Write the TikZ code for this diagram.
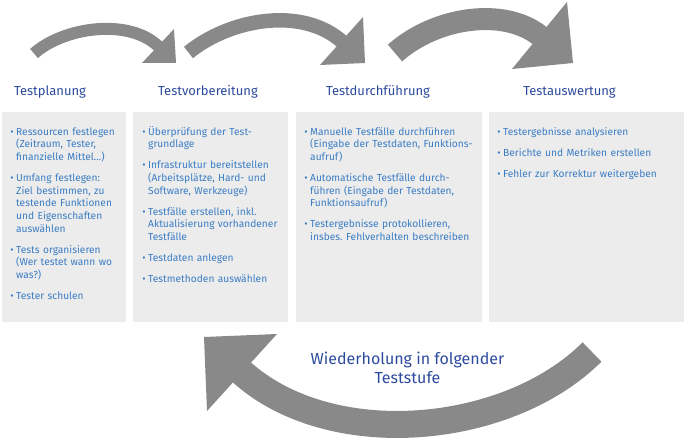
\documentclass[tikz,border=0pt]{standalone}
\usepackage{fontspec}
\setmainfont{Fira Sans}
\frenchspacing
\definecolor{boxgray}{HTML}{ECECEC}
\definecolor{arrowgray}{HTML}{898989}
\definecolor{titleblue}{HTML}{2D4B9E}
\definecolor{textblue}{HTML}{3B7DC4}
\newcommand\bitem[1]{\par\noindent\llap{\textbullet\hspace{2.5pt}}\strut#1}
\begin{document}
\begin{tikzpicture}[x=1pt,y=-1pt,
  panel/.style={fill=boxgray, draw=none, anchor=north west, inner sep=0},
  phase/.style={text=titleblue, font=\fontsize{13}{15}\selectfont, inner sep=0, anchor=base},
  bodytext/.style={text=textblue, font=\fontsize{10.2}{12.7}\selectfont\frenchspacing, anchor=north west, inner sep=0, align=left},
  shaft/.style={draw=arrowgray, line cap=butt},
  head/.style={fill=arrowgray, draw=none}]
\useasboundingbox (0,0) rectangle (685,441);
% panels
\node[panel, minimum width=124pt, minimum height=210pt] (p1) at (2,112) {};
\node[panel, minimum width=155pt, minimum height=210pt] (p2) at (133,112) {};
\node[panel, minimum width=186pt, minimum height=210pt] (p3) at (296,112) {};
\node[panel, minimum width=195pt, minimum height=210pt] (p4) at (489,112) {};
% phase titles
\node[phase] (t1) at (50,96) {Testplanung};
\node[phase] (t2) at (208,96) {Testvorbereitung};
\node[phase] (t3) at (378,96) {Testdurchführung};
\node[phase] (t4) at (569.5,96) {Testauswertung};
% body texts
\node[bodytext, text width=112pt] (b1) at (16,113.8) {\setlength{\parskip}{8.3pt}%
\bitem{Ressourcen festlegen\\(Zeitraum, Tester,\\finanzielle Mittel...)}
\bitem{Umfang festlegen:\\Ziel bestimmen, zu\\testende Funktionen\\und Eigenschaften\\auswählen}
\bitem{Tests organisieren\\(Wer testet wann wo\\was?)}
\bitem{Tester schulen}};
\node[bodytext, text width=140pt] (b2) at (148,113.8) {\setlength{\parskip}{8.3pt}%
\bitem{Überprüfung der Test-\\grundlage}
\bitem{Infrastruktur bereitstellen\\(Arbeitsplätze, Hard- und\\Software, Werkzeuge)}
\bitem{Testfälle erstellen, inkl.\\Aktualisierung vorhandener\\Testfälle}
\bitem{Testdaten anlegen}
\bitem{Testmethoden auswählen}};
\node[bodytext, text width=172pt] (b3) at (310,113.8) {\setlength{\parskip}{8.3pt}%
\bitem{Manuelle Testfälle durchführen\\(Eingabe der Testdaten, Funktions-\\aufruf)}
\bitem{Automatische Testfälle durch-\\führen (Eingabe der Testdaten,\\Funktionsaufruf)}
\bitem{Testergebnisse protokollieren,\\insbes.\ Fehlverhalten beschreiben}};
\node[bodytext, text width=180pt] (b4) at (503,113.8) {\setlength{\parskip}{8.3pt}%
\bitem{Testergebnisse analysieren}
\bitem{Berichte und Metriken erstellen}
\bitem{Fehler zur Korrektur weitergeben}};
% forward arrows
\draw[shaft, line width=12pt] (34,53.5) .. controls (64,26.8) and (129.7,17.7) .. (159,47);
\fill[head] (174,29) -- (176,63) -- (142,63) -- cycle;
\draw[shaft, line width=14.5pt] (188.5,52.5) .. controls (229.5,19) and (302,5.6) .. (342.5,42);
\fill[head] (363,17) -- (365,63) -- (320,65) -- cycle;
\draw[shaft, line width=22pt] (395,53) .. controls (435.9,16.7) and (504.7,7) .. (540.5,36.3);
\fill[head] (567,2) -- (573,63) -- (512,69) -- cycle;
% return arrow
\draw[shaft, line width=27pt] (592,352) .. controls (507.9,436.1) and (330.1,452.6) .. (241,371.6);
\fill[head] (277,334) -- (204,337) -- (207,411) -- cycle;
\node[text=titleblue, font=\fontsize{16}{19}\selectfont, align=center, anchor=north, inner sep=0] (rep) at (407.5,352) {Wiederholung in folgender\\Teststufe};
\end{tikzpicture}
\end{document}
